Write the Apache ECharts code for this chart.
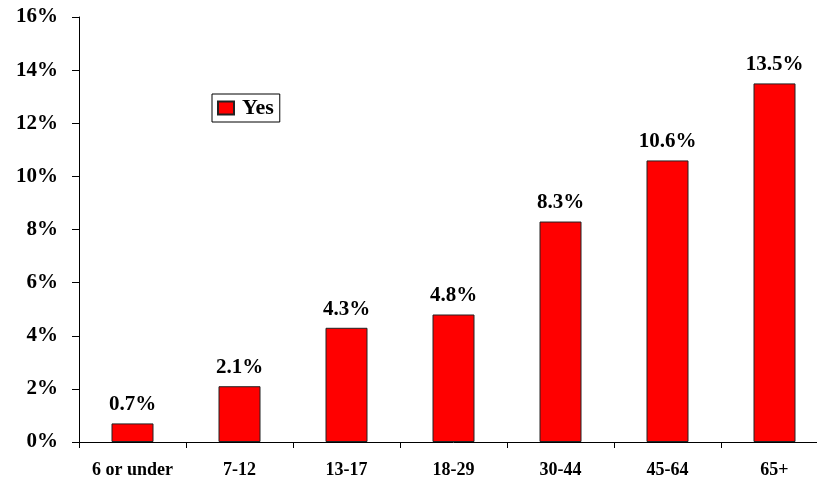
<!DOCTYPE html>
<html><head><meta charset="utf-8">
<script src="https://cdn.jsdelivr.net/npm/echarts@6/dist/echarts.min.js"></script>
<style>html,body{margin:0;padding:0;background:#fff;overflow:hidden}#c{width:840px;height:485px}</style>
</head><body><div id="c"></div>
<script>
const categories = ['6 or under','7-12','13-17','18-29','30-44','45-64','65+'];
const yesValues = [0.7, 2.1, 4.3, 4.8, 8.3, 10.6, 13.5];
const seriesName = 'Yes';
const font = '"Liberation Serif","Times New Roman",serif';
const chart = echarts.init(document.getElementById('c'));
chart.setOption({
  animation: false,
  grid: {left: 79, right: 12, top: 17, bottom: 43, containLabel: false},
  legend: {
    data: [seriesName], left: 212, top: 94, orient: 'vertical',
    padding: [3, 6, 3, 5], borderColor: '#000', borderWidth: 1,
    itemWidth: 16, itemHeight: 13, itemGap: 0,
    textStyle: {fontFamily: font, fontWeight: 'bold', fontSize: 22, color: '#000', padding: [0, 0, 0, 3]},
    icon: 'rect'
  },
  xAxis: {
    type: 'category', data: categories,
    axisLine: {lineStyle: {color: '#000', width: 1}},
    axisTick: {show: true, length: 6, lineStyle: {color: '#000'}},
    axisLabel: {fontFamily: font, fontWeight: 'bold', fontSize: 18, color: '#000', margin: 19}
  },
  yAxis: {
    type: 'value', min: 0, max: 16, interval: 2,
    splitLine: {show: false},
    axisLine: {show: true, lineStyle: {color: '#000', width: 1}},
    axisTick: {show: true, length: 7, lineStyle: {color: '#000'}},
    axisLabel: {formatter: '{value}%', fontFamily: font, fontWeight: 'bold', fontSize: 21, color: '#000', margin: 21}
  },
  series: [{
    name: seriesName, type: 'bar', data: yesValues, barWidth: 42,
    itemStyle: {color: '#ff0000', borderColor: '#222', borderWidth: 1},
    label: {show: true, position: 'top', distance: 8, formatter: p => p.value.toFixed(1) + '%',
      fontFamily: font, fontWeight: 'bold', fontSize: 21, color: '#000'}
  }]
});
</script></body></html>
